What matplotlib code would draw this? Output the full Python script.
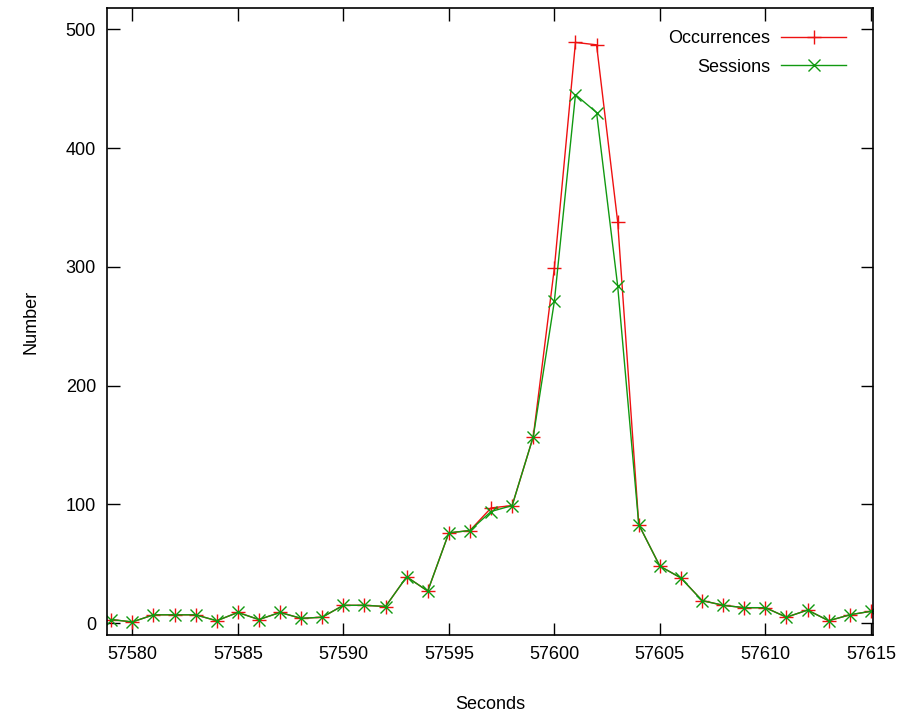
import matplotlib
matplotlib.use("Agg")
import matplotlib.pyplot as plt

plt.rcParams['font.family'] = ['Liberation Sans', 'DejaVu Sans']

seconds = list(range(57579, 57616))
occurrences = [3, 1, 7, 7, 7, 2, 9, 3, 9, 4, 5, 15, 15, 14, 39, 27, 76, 78, 97, 99,
               157, 299, 489, 487, 338, 83, 48, 38, 19, 15, 13, 13, 5, 11, 2, 7, 10]
sessions = [3, 1, 7, 7, 7, 2, 9, 3, 9, 4, 5, 15, 15, 14, 39, 27, 76, 78, 94, 99,
            157, 271, 445, 430, 284, 83, 48, 38, 19, 15, 13, 13, 5, 11, 2, 7, 10]

fig = plt.figure(figsize=(8.98, 7.15), dpi=100)
ax = fig.add_axes([107 / 898, 80 / 715, 766 / 898, 627 / 715])

ax.plot(seconds, occurrences, color="#ee1111", lw=1.0, marker="+", ms=10, mew=1.0,
        label="Occurrences")
ax.plot(seconds, sessions, color="#119911", lw=1.0, marker="x", ms=9, mew=1.0,
        label="Sessions")

ax.set_xlim(57578.8, 57615.1)
ax.set_ylim(-10, 518)
ax.set_xticks(range(57580, 57616, 5))
ax.set_yticks(range(0, 501, 100))
ax.tick_params(direction="in", length=9, width=1, top=True, right=True,
               labelsize=13, pad=8)
for s in ax.spines.values():
    s.set_linewidth(1.2)

ax.set_xlabel("Seconds", fontsize=13, labelpad=24)
ax.set_ylabel("Number", fontsize=13, labelpad=19)

ax.legend(loc="upper right", bbox_to_anchor=(846 / 898, 685 / 715),
          bbox_transform=fig.transFigure, frameon=False, markerfirst=False,
          fontsize=13, handlelength=3.6, handletextpad=0.6, labelspacing=0.65,
          borderpad=0, borderaxespad=0)

plt.savefig("out.png")
